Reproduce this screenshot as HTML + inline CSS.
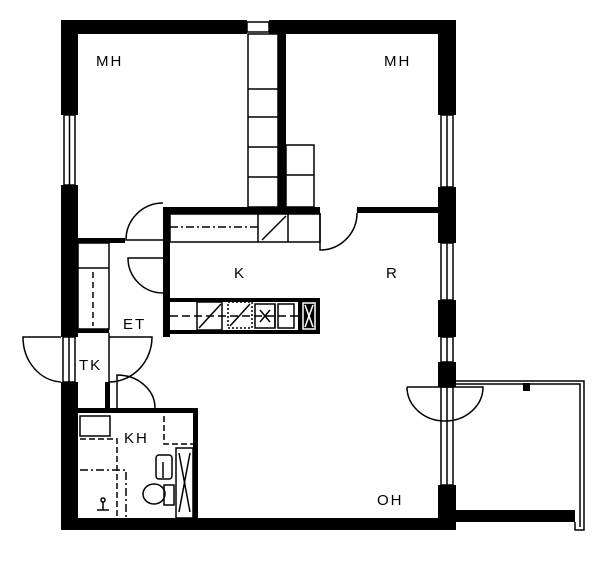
<!DOCTYPE html>
<html><head><meta charset="utf-8"><style>
html,body{margin:0;padding:0;background:#fff;}
svg{display:block;}
text{font-family:"Liberation Sans",sans-serif;font-size:15px;fill:#000;letter-spacing:2px;}
</style></head><body>
<svg width="600" height="564" viewBox="0 0 600 564" xmlns="http://www.w3.org/2000/svg">
<g fill="#000">
<rect x="61" y="20" width="186" height="14"/>
<rect x="269" y="20" width="187" height="14"/>
<rect x="61" y="20" width="17" height="95"/>
<rect x="61" y="185" width="17" height="152"/>
<rect x="61" y="382" width="17" height="148"/>
<rect x="61" y="518" width="395" height="12"/>
<rect x="438" y="20" width="18" height="95"/>
<rect x="438" y="187" width="18" height="56"/>
<rect x="438" y="300" width="18" height="37"/>
<rect x="438" y="362" width="18" height="25"/>
<rect x="438" y="485" width="18" height="45"/>
<rect x="456" y="510" width="119" height="12"/>
<rect x="278" y="34" width="8" height="176"/>
<rect x="163" y="207" width="157" height="7"/>
<rect x="357" y="207" width="81" height="6"/>
<rect x="163" y="207" width="7" height="130"/>
<rect x="78" y="238" width="47" height="5"/>
<rect x="78" y="329" width="31" height="4"/>
<rect x="105" y="382" width="5" height="28"/>
<rect x="78" y="408" width="120" height="5"/>
<rect x="193" y="408" width="5" height="112"/>
<rect x="298" y="298" width="22" height="36"/>
<rect x="163" y="298" width="157" height="4"/>
<rect x="163" y="330" width="157" height="4"/>
<rect x="523" y="383" width="7" height="8"/>
</g>
<g fill="none" stroke="#000" stroke-width="1.5">
<rect x="247" y="22" width="22" height="10"/>
<rect x="64" y="115" width="11" height="70"/><line x1="69.5" y1="115" x2="69.5" y2="185"/>
<rect x="441" y="115" width="12" height="72"/><line x1="447" y1="115" x2="447" y2="187"/>
<rect x="441" y="243" width="12" height="57"/><line x1="447" y1="243" x2="447" y2="300"/>
<rect x="441" y="337" width="12" height="25"/><line x1="447" y1="337" x2="447" y2="362"/>
<rect x="441" y="387" width="12" height="98"/><line x1="447" y1="387" x2="447" y2="485"/>
<rect x="248" y="34" width="30" height="173"/>
<line x1="248" y1="89" x2="278" y2="89"/><line x1="248" y1="117" x2="278" y2="117"/>
<line x1="248" y1="147" x2="278" y2="147"/><line x1="248" y1="177" x2="278" y2="177"/>
<rect x="286" y="145" width="28" height="62"/><line x1="286" y1="175" x2="314" y2="175"/>
<rect x="170" y="214" width="150" height="28"/>
<line x1="258" y1="214" x2="258" y2="242"/><line x1="288" y1="214" x2="288" y2="242"/>
<line x1="262" y1="240" x2="286" y2="216"/>
<line x1="170" y1="227" x2="258" y2="227" stroke-dasharray="8,3,2,3"/>
<line x1="170" y1="316" x2="298" y2="316" stroke-dasharray="8,4"/>
<rect x="197" y="302" width="25" height="28"/><line x1="199" y1="328" x2="221" y2="304"/>
<rect x="228" y="302" width="24" height="26" stroke-dasharray="2,2"/><line x1="230" y1="326" x2="250" y2="304"/>
<rect x="255" y="304" width="20" height="24"/><line x1="275" y1="304" x2="275" y2="328"/><rect x="278" y="304" width="16" height="24"/>
<line x1="260" y1="310" x2="270" y2="322"/><line x1="270" y1="310" x2="260" y2="322"/>
<rect x="303" y="303" width="12" height="26" stroke="#fff"/>
<line x1="305" y1="305" x2="313" y2="327" stroke="#fff"/><line x1="313" y1="305" x2="305" y2="327" stroke="#fff"/>
<rect x="78" y="243" width="31" height="86"/>
<line x1="78" y1="268" x2="109" y2="268"/>
<line x1="93" y1="272" x2="93" y2="326" stroke-dasharray="6,4"/>
<line x1="109" y1="333" x2="109" y2="382"/>
<rect x="63" y="337" width="12" height="45"/><line x1="69" y1="337" x2="69" y2="382"/>
<path d="M163 240 L126 240 A37 37 0 0 1 163 203"/>
<path d="M163 258 L128 258 A35 35 0 0 0 163 293"/>
<path d="M320 213 L320 250 A37 37 0 0 0 357 213"/>
<path d="M61 337 L23 337 A40 45 0 0 0 61 382"/>
<path d="M109 382 A43 45 0 0 0 152 337 L109 337"/>
<path d="M117 408 L117 375 A38 33 0 0 1 155 408"/>
<path d="M407 387 L483 387 A38 34 0 0 1 407 387"/>
<path d="M456 381 L584 381 L584 530 L575 530 L575 522"/>
<path d="M456 384 L580 384 L580 527"/>
<rect x="80" y="416" width="30" height="20"/>
<path d="M80 439 L117 439 L117 520" stroke-dasharray="6,3"/>
<path d="M80 470 L126 470 L126 520" stroke-dasharray="8,3,2,3"/>
<path d="M164 416 L164 444 L193 444" stroke-dasharray="6,3"/>
<rect x="176" y="448" width="17" height="70"/>
<line x1="179" y1="453" x2="190" y2="512"/><line x1="190" y1="453" x2="179" y2="512"/>
<rect x="156" y="455" width="16" height="24" rx="3"/>
<line x1="163" y1="462" x2="163" y2="478"/>
<ellipse cx="154" cy="494" rx="11" ry="10"/><rect x="164" y="485" width="10" height="20"/>
<circle cx="103" cy="500" r="2"/><line x1="103" y1="502" x2="103" y2="510"/><line x1="97" y1="510" x2="109" y2="510"/>
</g>
<text x="96" y="66">MH</text>
<text x="384" y="66">MH</text>
<text x="234" y="278">K</text>
<text x="386" y="278">R</text>
<text x="123" y="329">ET</text>
<text x="79" y="370">TK</text>
<text x="124" y="443">KH</text>
<text x="377" y="505">OH</text>
</svg>
</body></html>
